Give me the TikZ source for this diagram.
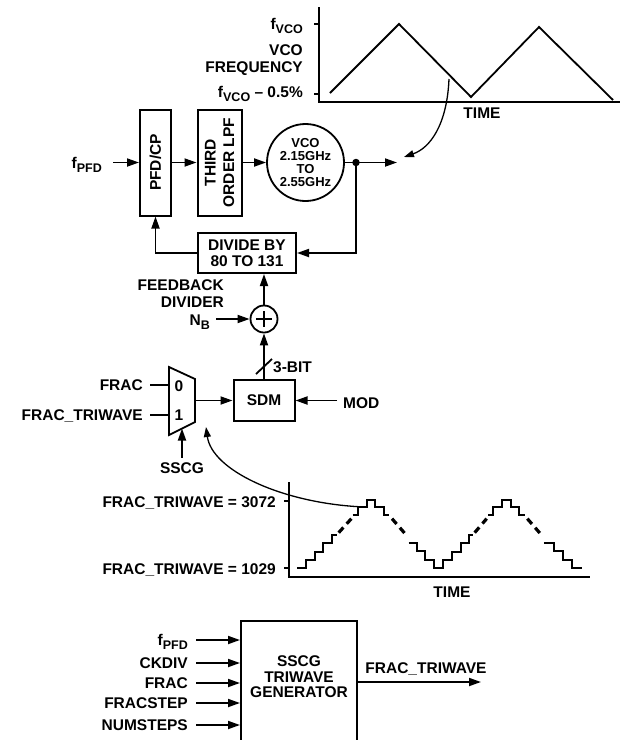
\documentclass[tikz,border=0pt]{standalone}
\usepackage{fontspec}
\setmainfont{Liberation Sans}
\usetikzlibrary{arrows.meta,calc}
\newcommand{\lf}{\fontsize{15.5}{16.5}\selectfont\bfseries}
\newcommand{\vf}{\fontsize{13}{13.3}\selectfont\bfseries}
\newcommand{\sbt}[1]{\raisebox{-0.28em}{\fontsize{12.5}{12.5}\selectfont #1}}
\begin{document}
\begin{tikzpicture}[x=1pt,y=-1pt,
  ln/.style={line width=1.8pt},
  arr/.style={line width=1.8pt,-{Triangle[length=12pt,width=8pt]}},
  carr/.style={line width=1.3pt,-{Triangle[length=10pt,width=7pt]}},
  box/.style={draw,line width=2pt,inner sep=0pt,align=center,font=\lf},
  lbl/.style={inner sep=0pt,font=\lf,align=right},
  stair/.style={line width=2pt,line join=miter},
  dsh/.style={line width=3.2pt,dash pattern=on 7pt off 5pt},
  ]
\useasboundingbox (0,0) rectangle (621,740);
\clip (0,0) rectangle (621,740);

% ---------- top graph ----------
\draw[ln] (319,7) -- (319,102) -- (620,102);
\draw[ln] (314,24) -- (319,24);
\draw[ln] (314,94) -- (319,94);
\draw[ln,line join=miter] (330,93) -- (399,24) -- (471,97) -- (539,27) -- (613,100);
\node[lbl,anchor=base east] (fvco) at (303,29) {f\sbt{VCO}};
\node[lbl,anchor=east] (vcofreq) at (303,60) {VCO\\FREQUENCY};
\node[lbl,anchor=base east] (fvcolow) at (303,97) {f\sbt{VCO} -- 0.5\%};
\node[lbl,anchor=base] (time1) at (482,118) {TIME};
\coordinate (wavept) at (449,79);
\coordinate (vtgt) at (404,157);
\draw[carr] (wavept) .. controls (447,125) and (430,148) .. (vtgt);

% ---------- PLL loop ----------
\node[box,minimum width=31pt,minimum height=106pt] (pfd) at (155.5,162.5) {};
\node[font=\lf,rotate=90] (pfdtxt) at (pfd.center) {PFD/CP};
\node[box,minimum width=44pt,minimum height=106pt] (lpf) at (219.5,162.5) {};
\node[font=\fontsize{15.5}{18.5}\selectfont\bfseries,rotate=90,align=center] (lpftxt) at (lpf.center) {THIRD\\ORDER LPF};
\node[draw,circle,line width=1.8pt,minimum size=77pt,inner sep=0pt,align=center,font=\vf] (vco) at (305.5,162.5) {VCO\\2.15GHz\\TO\\2.55GHz};
\node[lbl,anchor=base east] (fpfd) at (102,168) {f\sbt{PFD}};
\draw[arr,shorten <=11pt] (fpfd.east |- pfd.west) -- (pfd.west);
\draw[arr] (pfd.east) -- (lpf.west);
\draw[arr] (lpf.east) -- (vco.west);
\node[circle,fill,inner sep=0pt,minimum size=7.5pt] (dot) at (356,162.5) {};
\coordinate (vout) at (397,162.5);
\draw[ln] (vco.east) -- (dot.center);
\draw[arr] (dot.center) -- (vout);

\node[box,minimum width=98pt,minimum height=40pt] (div) at (247,253) {DIVIDE BY\\80 TO 131};
\draw[arr] (dot.center) |- (div.east);
\draw[arr] (div.west) -| (pfd.south);
\node[lbl,anchor=east] (fbl) at (224,293.5) {FEEDBACK\\DIVIDER};

\node[draw,circle,line width=1.8pt,minimum size=27pt,inner sep=0pt] (add) at (264,319) {};
\draw[ln] (256,319) -- (272,319);
\draw[ln] (264,311) -- (264,327);
\draw[arr] (add.north) -- (add.north |- div.south);
\node[lbl,anchor=base east] (nb) at (210,325) {N\sbt{B}};
\draw[arr,shorten <=6pt] (nb.east |- add.west) -- (add.west);

\node[box,minimum width=61pt,minimum height=41pt] (sdm) at (264,400.5) {SDM};
\draw[arr] (sdm.north) -- (add.south);
\draw[ln] (256,374) -- (272,359);
\node[lbl,anchor=base west] (bits) at (273,372) {3-BIT};
\node[lbl,anchor=base west] (mod) at (343,408) {MOD};
\draw[arr,shorten <=6pt] (mod.west |- sdm.east) -- (sdm.east);

% mux
\draw[line width=1.8pt,line join=miter] (169,367) -- (195,379) -- (195,422) -- (169,435) -- cycle;
\coordinate (m0) at (169,385);
\coordinate (m1) at (169,415);
\coordinate (mo) at (195,400.5);
\coordinate (mb) at (182,428.5);
\node[font=\lf,inner sep=0pt,anchor=base] (zero) at (179,391) {0};
\node[font=\lf,inner sep=0pt,anchor=base] (one) at (179,420) {1};
\node[lbl,anchor=base east] (frac) at (143,390) {FRAC};
\node[lbl,anchor=base east] (ftw) at (143,420) {FRAC\_TRIWAVE};
\draw[ln,shorten <=7pt] (frac.east |- m0) -- (m0);
\draw[ln,shorten <=7pt] (ftw.east |- m1) -- (m1);
\draw[arr] (mo) -- (sdm.west);
\node[lbl,anchor=base] (sscg) at (182,473) {SSCG};
\draw[arr,shorten <=4pt] (sscg.north) -- (mb);

% ---------- bottom graph ----------
\draw[ln] (289,482) -- (289,577) -- (590,577);
\draw[ln] (284,501) -- (289,501);
\draw[ln] (284,568) -- (289,568);
\node[lbl,anchor=base east] (hi) at (276,507) {FRAC\_TRIWAVE = 3072};
\node[lbl,anchor=base east] (lo) at (276,574) {FRAC\_TRIWAVE = 1029};
\node[lbl,anchor=base] (time2) at (452,597) {TIME};
\begin{scope}[shift={(280,480)},scale=1/3]
  \draw[stair] (52,265) -- (78,265) -- (78,240) -- (104,240) -- (104,215) -- (130,215) -- (130,190) -- (156,190) -- (156,165) -- (170,165);
  \draw[dsh] (176,158) -- (214,116);
  \draw[stair] (218,105) -- (234,105) -- (234,82) -- (260,82) -- (260,60) -- (286,60) -- (286,82) -- (312,82) -- (312,105) -- (328,105);
  \draw[dsh] (336,116) -- (376,162);
  \draw[stair] (386,188) -- (410,188) -- (410,213) -- (436,213) -- (436,239) -- (462,239) -- (462,265) -- (490,265) -- (490,240) -- (516,240) -- (516,215) -- (542,215) -- (542,190) -- (568,190) -- (568,165) -- (580,165);
  \draw[dsh] (584,158) -- (620,116);
  \draw[stair] (624,105) -- (640,105) -- (640,82) -- (666,82) -- (666,60) -- (692,60) -- (692,82) -- (718,82) -- (718,105) -- (734,105);
  \draw[dsh] (742,116) -- (782,162);
  \draw[stair] (792,188) -- (822,188) -- (822,213) -- (848,213) -- (848,239) -- (876,239) -- (876,265) -- (905,265);
  \coordinate (stp) at (234,80);
\end{scope}
\coordinate (mxt) at (206,427);
\draw[carr] (stp) .. controls (280,502) and (212,470) .. (mxt);

% ---------- triwave generator ----------
\node[box,minimum width=116pt,minimum height=140pt,anchor=north] (gen) at (299,620) {};
\node[font=\fontsize{15.5}{15.5}\selectfont\bfseries,align=center] (gentxt) at (299,677) {SSCG\\TRIWAVE\\GENERATOR};
\node[lbl,anchor=base east] (g1) at (188,645) {f\sbt{PFD}};
\node[lbl,anchor=base east] (g2) at (188,668.5) {CKDIV};
\node[lbl,anchor=base east] (g3) at (188,688.5) {FRAC};
\node[lbl,anchor=base east] (g4) at (188,708.5) {FRACSTEP};
\node[lbl,anchor=base east] (g5) at (188,730.5) {NUMSTEPS};
\draw[arr,shorten <=8pt] (g1.east |- 0,640) -- ($(gen.north west)+(0,20)$);
\draw[arr,shorten <=8pt] (g2.east |- 0,663) -- ($(gen.north west)+(0,43)$);
\draw[arr,shorten <=8pt] (g3.east |- 0,683) -- ($(gen.north west)+(0,63)$);
\draw[arr,shorten <=8pt] (g4.east |- 0,703) -- ($(gen.north west)+(0,83)$);
\draw[arr,shorten <=8pt] (g5.east |- 0,725) -- ($(gen.north west)+(0,105)$);
\node[lbl,anchor=base] (outl) at (426,673) {FRAC\_TRIWAVE};
\coordinate (genout) at (481,682);
\draw[arr] ($(gen.north east)+(0,62)$) -- (genout);
\end{tikzpicture}
\end{document}
